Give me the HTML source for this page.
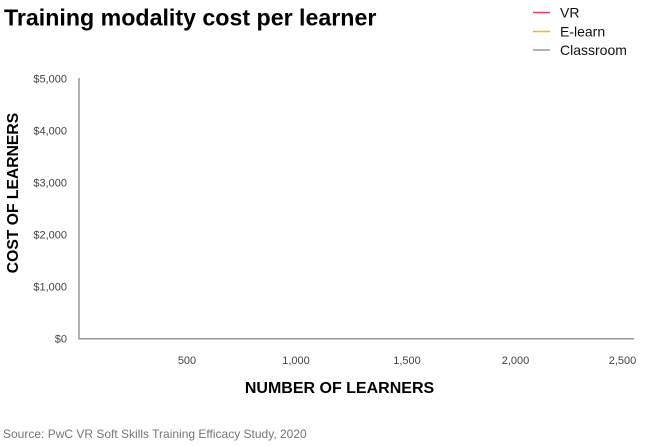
<!DOCTYPE html>
<html>
<head>
<meta charset="utf-8">
<style>
  html, body { margin: 0; padding: 0; background: #ffffff; }
  body { width: 655px; height: 446px; overflow: hidden; }
  svg { display: block; font-family: "Liberation Sans", Arial, sans-serif; }
</style>
</head>
<body>
<svg width="655" height="446" viewBox="0 0 655 446" xmlns="http://www.w3.org/2000/svg">
  <!-- Title -->
  <text x="4" y="25.5" font-size="23.2" font-weight="bold" fill="#000">Training modality cost per learner</text>

  <!-- Legend -->
  <line x1="533" y1="12.5" x2="550" y2="12.5" stroke="#e0455f" stroke-width="1.5"/>
  <text x="560" y="17.5" font-size="14" fill="#111">VR</text>
  <line x1="533" y1="31.5" x2="550" y2="31.5" stroke="#ffb600" stroke-width="1.5"/>
  <text x="560" y="36.5" font-size="14" fill="#111">E-learn</text>
  <line x1="533" y1="50" x2="550" y2="50" stroke="#999999" stroke-width="1.5"/>
  <text x="560" y="55" font-size="14" fill="#111">Classroom</text>

  <!-- Axes -->
  <line x1="79" y1="78" x2="79" y2="339" stroke="#999999" stroke-width="1.5"/>
  <line x1="78.25" y1="338.75" x2="634" y2="338.75" stroke="#999999" stroke-width="1.5"/>

  <!-- Y tick labels -->
  <g font-size="11" fill="#444" text-anchor="end">
    <text x="67" y="82.5">$5,000</text>
    <text x="67" y="134.5">$4,000</text>
    <text x="67" y="186.5">$3,000</text>
    <text x="67" y="238.5">$2,000</text>
    <text x="67" y="290.5">$1,000</text>
    <text x="67" y="342.5">$0</text>
  </g>

  <!-- X tick labels -->
  <g font-size="11" fill="#444" text-anchor="middle">
    <text x="187" y="364">500</text>
    <text x="296" y="364">1,000</text>
    <text x="407" y="364">1,500</text>
    <text x="515.5" y="364">2,000</text>
    <text x="622.5" y="364">2,500</text>
  </g>

  <!-- Axis titles -->
  <text x="339.5" y="393" font-size="16" font-weight="bold" fill="#000" text-anchor="middle">NUMBER OF LEARNERS</text>
  <text transform="translate(18,193) rotate(-90)" x="0" y="0" font-size="15.7" font-weight="bold" fill="#000" text-anchor="middle">COST OF LEARNERS</text>

  <!-- Source -->
  <text x="3" y="438" font-size="12" fill="#777">Source: PwC VR Soft Skills Training Efficacy Study, 2020</text>
</svg>
</body>
</html>
